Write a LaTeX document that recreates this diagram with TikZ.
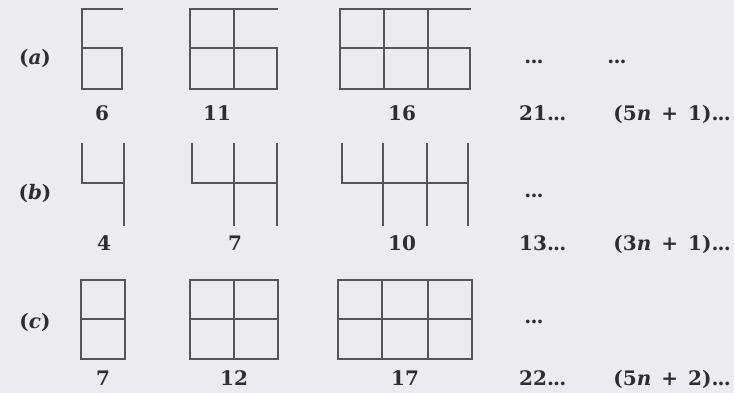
\documentclass[tikz,border=0pt]{standalone}
\usepackage{fontspec}
\setmainfont{DejaVu Serif}
\definecolor{bgc}{RGB}{236,236,240}
\definecolor{linec}{RGB}{85,85,90}
\definecolor{txtc}{RGB}{45,45,50}
\newcommand{\tdots}{.\kern-0.8pt.\kern-0.8pt.}
\newcommand{\psp}{\hspace{0.5em}}
\begin{document}
\begin{tikzpicture}[x=1pt,y=-1pt,
  fig/.style={draw=linec,line width=1.6pt,line cap=rect},
  lbl/.style={text=txtc,font=\fontsize{20}{24}\selectfont\bfseries,inner sep=0pt},
  numlbl/.style={lbl,anchor=base},
  dotslbl/.style={lbl}]
\fill[bgc] (0,0) rectangle (734,393);
\useasboundingbox (0,0) rectangle (734,393);

% ---------- row (a) ----------
\node[lbl] (la) at (35,58) {(\textit{a})};
% fig 1
\draw[fig] (122,9) -- (82,9) -- (82,89) -- (122,89) -- (122,48) -- (82,48);
% fig 2
\draw[fig] (277,9) -- (190,9) -- (190,89) -- (277,89) -- (277,48) -- (190,48);
\draw[fig] (234,9) -- (234,89);
% fig 3
\draw[fig] (470,9) -- (340,9) -- (340,89) -- (470,89) -- (470,48) -- (340,48);
\draw[fig] (384,9) -- (384,89);
\draw[fig] (428,9) -- (428,89);
\node[dotslbl] (da1) at (534,62) {\tdots};
\node[dotslbl] (da2) at (617,62) {\tdots};
\node[numlbl] (na1) at (102,121) {6};
\node[numlbl] (na2) at (217,121) {11};
\node[numlbl] (na3) at (402,121) {16};
\node[lbl,anchor=base west] (na4) at (519,121) {21\tdots};
\node[lbl,anchor=base east] (na5) at (731,121) {(5\textit{n}\psp+\psp1)\tdots};

% ---------- row (b) ----------
\node[lbl] (lb) at (35,193) {(\textit{b})};
\draw[fig] (82,144) -- (82,183) -- (124,183);
\draw[fig] (124,144) -- (124,225);
\draw[fig] (192,144) -- (192,183) -- (277,183);
\draw[fig] (234,144) -- (234,225);
\draw[fig] (277,144) -- (277,225);
\draw[fig] (342,144) -- (342,183) -- (468,183);
\draw[fig] (383,144) -- (383,225);
\draw[fig] (427,144) -- (427,225);
\draw[fig] (468,144) -- (468,225);
\node[dotslbl] (db1) at (534,196) {\tdots};
\node[numlbl] (nb1) at (104,251) {4};
\node[numlbl] (nb2) at (235,251) {7};
\node[numlbl] (nb3) at (402,251) {10};
\node[lbl,anchor=base west] (nb4) at (519,251) {13\tdots};
\node[lbl,anchor=base east] (nb5) at (731,251) {(3\textit{n}\psp+\psp1)\tdots};

% ---------- row (c) ----------
\node[lbl] (lc) at (35,322) {(\textit{c})};
\draw[fig] (81,280) rectangle (125,359);
\draw[fig] (81,319) -- (125,319);
\draw[fig] (190,280) rectangle (278,359);
\draw[fig] (190,319) -- (278,319);
\draw[fig] (234,280) -- (234,359);
\draw[fig] (338,280) rectangle (472,359);
\draw[fig] (338,319) -- (472,319);
\draw[fig] (382,280) -- (382,359);
\draw[fig] (428,280) -- (428,359);
\node[dotslbl] (dc1) at (534,322) {\tdots};
\node[numlbl] (nc1) at (103,385) {7};
\node[numlbl] (nc2) at (234,385) {12};
\node[numlbl] (nc3) at (405,385) {17};
\node[lbl,anchor=base west] (nc4) at (519,385) {22\tdots};
\node[lbl,anchor=base east] (nc5) at (731,385) {(5\textit{n}\psp+\psp2)\tdots};
\end{tikzpicture}
\end{document}
